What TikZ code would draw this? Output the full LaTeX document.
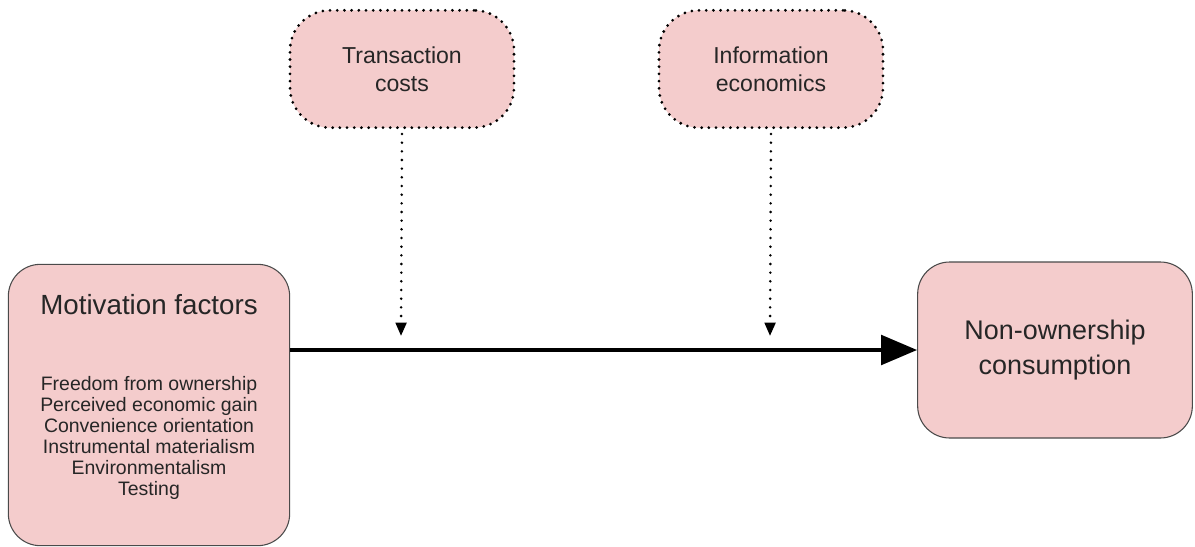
\documentclass[tikz,border=0pt]{standalone}
\usepackage{fontspec}
\setmainfont{Liberation Sans}
\usetikzlibrary{arrows.meta}
\definecolor{boxpink}{HTML}{F4CCCC}
\definecolor{boxline}{HTML}{4A4A4A}
\definecolor{inktext}{HTML}{262626}
\tikzset{
  factorbox/.style={draw=boxline, fill=boxpink, rounded corners=24pt, line width=0.8pt},
  theorybox/.style={draw=black, fill=boxpink, rounded corners=30pt, line width=2.3pt,
    dash pattern=on 0pt off 5.4pt, line cap=round, minimum width=168pt, minimum height=88pt,
    align=center, text=inktext, font=\fontsize{17.3}{21}\selectfont},
  mainarrow/.style={line width=3.2pt, -{Triangle[length=27pt,width=22pt]}},
  linkarrow/.style={line width=2.1pt, dash pattern=on 0pt off 6.5pt, line cap=round,
    -{Triangle[length=10pt,width=8pt]}}
}
\begin{document}
\begin{tikzpicture}[x=0.75pt,y=-0.75pt]
  \useasboundingbox (0,0) rectangle (1195,546);

  % outcome and motivation boxes
  \node [factorbox, minimum width=211pt, minimum height=211pt] (motiv) at (149,405) {};
  \node [text=inktext, font=\fontsize{20.8}{25}\selectfont] (motivtitle) at (149,305) {Motivation factors};
  \node [text=inktext, align=center, font=\fontsize{14.6}{15.75}\selectfont] (motivlist) at (149,438)
    {Freedom from ownership\\Perceived economic gain\\Convenience orientation\\Instrumental materialism\\Environmentalism\\Testing};
  \node [factorbox, minimum width=206pt, minimum height=132pt, align=center, text=inktext,
    font=\fontsize{20.2}{26.25}\selectfont] (noc) at (1055,350) {Non-ownership\\consumption};

  % theories on top
  \node [theorybox] (trans) at (402,69) {Transaction\\costs};
  \node [theorybox] (info) at (771,69) {Information\\economics};

  \draw [mainarrow] (motiv.east |- noc.west) -- (noc.west);

  \coordinate (transend) at (401,336);
  \coordinate (infoend) at (770,336);
  \draw [linkarrow] (trans.south |- 0,134) -- (transend);
  \draw [linkarrow] (info.south |- 0,134) -- (infoend);
\end{tikzpicture}
\end{document}
